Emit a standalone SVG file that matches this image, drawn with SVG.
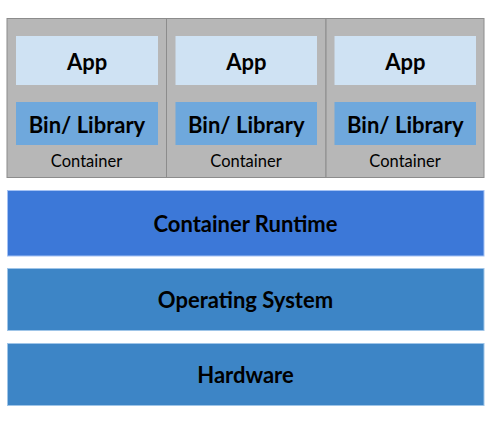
<svg xmlns="http://www.w3.org/2000/svg" width="492" height="427" viewBox="0 0 492 427">
<style>
.cont{fill:#b7b7b7;stroke:#8c8c8c;stroke-width:1}
.app{fill:#cfe2f3}
.bin{fill:#6fa8dc}
.rt{fill:#3c78d8;stroke:#a4c2f4;stroke-width:1}
.os{fill:#3d85c6;stroke:#9fc5e8;stroke-width:1}
.b{font-family:Lato,"Liberation Sans",sans-serif;font-weight:bold;fill:#000;text-anchor:middle}
.big{font-size:22px}
.lbl{font-family:Lato,"Liberation Sans",sans-serif;font-size:16.5px;fill:#000;text-anchor:middle}
</style>
<rect width="492" height="427" fill="#fff"/>
<g id="container1">
<rect class="cont" x="7" y="18.5" width="159.5" height="159"/>
<g id="app1"><rect class="app" x="16" y="36" width="142" height="49"/><text class="b big" x="87" y="70">App</text></g>
<g id="bin1"><rect class="bin" x="16" y="102" width="142" height="43"/><text class="b big" x="87" y="132.5">Bin/ Library</text></g>
<text class="lbl" x="86.5" y="166.5">Container</text>
</g>
<g id="container2">
<rect class="cont" x="166.5" y="18.5" width="159.5" height="159"/>
<g id="app2"><rect class="app" x="175.5" y="36" width="141.5" height="49"/><text class="b big" x="246.3" y="70">App</text></g>
<g id="bin2"><rect class="bin" x="175.5" y="102" width="141.5" height="43"/><text class="b big" x="246.3" y="132.5">Bin/ Library</text></g>
<text class="lbl" x="246" y="166.5">Container</text>
</g>
<g id="container3">
<rect class="cont" x="326" y="18.5" width="158" height="159"/>
<g id="app3"><rect class="app" x="334.5" y="36" width="141.5" height="49"/><text class="b big" x="405.3" y="70">App</text></g>
<g id="bin3"><rect class="bin" x="334.5" y="102" width="141.5" height="43"/><text class="b big" x="405.3" y="132.5">Bin/ Library</text></g>
<text class="lbl" x="405" y="166.5">Container</text>
</g>
<g id="runtime">
<rect class="rt" x="7.5" y="190.5" width="476.5" height="65.5"/>
<text class="b big" x="245.5" y="232">Container Runtime</text>
</g>
<g id="os">
<rect class="os" x="7.5" y="268.5" width="476.5" height="62"/>
<text class="b big" x="245.5" y="308">Operating System</text>
</g>
<g id="hardware">
<rect class="os" x="7.5" y="343.5" width="476.5" height="62"/>
<text class="b big" x="245.5" y="383">Hardware</text>
</g>
<g id="connectors"/>
</svg>
